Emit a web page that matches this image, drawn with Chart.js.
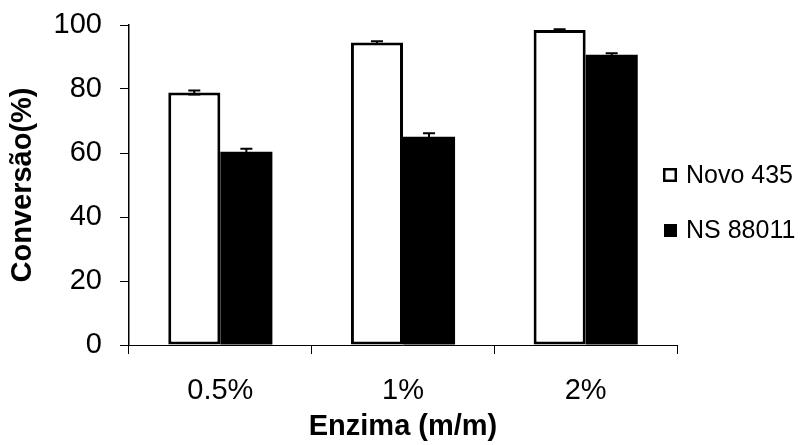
<!DOCTYPE html>
<html>
<head>
<meta charset="utf-8">
<script src="https://cdn.jsdelivr.net/npm/chart.js@4"></script>
<style>
  html, body { margin: 0; padding: 0; background: #fff; }
  #wrap { width: 801px; height: 445px; }
</style>
</head>
<body>
<div id="wrap"><canvas id="myChart"></canvas></div>
<script>
/*** data ***/
const categories = ["0.5%", "1%", "2%"];
const novo435 = [78.9, 94.5, 98.4];
const novo435Err = [0.6, 0.4, 0.3];
const ns88011 = [60.4, 65.1, 90.7];
const ns88011Err = [0.9, 1.1, 0.5];
const yMin = 0, yMax = 100, yStep = 20;

const FONT = "'Liberation Sans', Arial, sans-serif";

// error bars, drawn through the chart's own scales
const errorBars = {
  id: "errorBars",
  afterDatasetsDraw(chart) {
    const ctx = chart.ctx;
    const y = chart.scales.y;
    ctx.save();
    ctx.strokeStyle = "#000";
    ctx.lineWidth = 2;
    chart.data.datasets.forEach((ds, i) => {
      const meta = chart.getDatasetMeta(i);
      meta.data.forEach((bar, j) => {
        const v = ds.data[j], e = ds.errors[j];
        const x = bar.x;
        const hi = y.getPixelForValue(v + e);
        const lo = y.getPixelForValue(v - e);
        ctx.beginPath();
        ctx.moveTo(x, hi); ctx.lineTo(x, lo);
        ctx.moveTo(x - 6, hi); ctx.lineTo(x + 6, hi);
        ctx.moveTo(x - 6, lo); ctx.lineTo(x + 6, lo);
        ctx.stroke();
      });
    });
    ctx.restore();
  }
};

// legend on the right, overlapping the plot edge as in the original
const sideLegend = {
  id: "sideLegend",
  afterDraw(chart) {
    const ctx = chart.ctx;
    const x0 = chart.chartArea.right - 14;
    const rows = [175, 230];
    ctx.save();
    ctx.font = "25px " + FONT;
    ctx.textBaseline = "middle";
    chart.data.datasets.forEach((ds, i) => {
      const cy = rows[i];
      if (ds.borderWidth) {
        ctx.fillStyle = ds.backgroundColor;
        ctx.fillRect(x0, cy - 7, 14, 14);
        ctx.lineWidth = 2.5;
        ctx.strokeStyle = ds.borderColor;
        ctx.strokeRect(x0 + 1.25, cy - 5.75, 11.5, 11.5);
      } else {
        ctx.fillStyle = ds.backgroundColor;
        ctx.fillRect(x0 + 1, cy - 6, 13, 13);
      }
      ctx.fillStyle = "#000";
      ctx.fillText(ds.label, x0 + 23, cy + 1);
    });
    ctx.restore();
  }
};

var ctx = document.getElementById("myChart").getContext("2d");
var chart = new Chart(ctx, {
  type: "bar",
  data: {
    labels: categories,
    datasets: [
      {
        label: "Novo 435",
        data: novo435,
        errors: novo435Err,
        backgroundColor: "#fff",
        borderColor: "#000",
        borderWidth: 3,
        borderSkipped: false,
      },
      {
        label: "NS 88011",
        data: ns88011,
        errors: ns88011Err,
        backgroundColor: "#000",
        borderWidth: 0,
      },
    ],
  },
  options: {
    responsive: true,
    maintainAspectRatio: false,
    animation: false,
    layout: { padding: { left: 0, right: 124, top: 25, bottom: 0 } },
    datasets: { bar: { categoryPercentage: 0.57, barPercentage: 1.0 } },
    plugins: { legend: { display: false }, tooltip: { enabled: false } },
    scales: {
      x: {
        afterFit: (s) => { s.height = 100; },
        border: { display: true, color: "#000", width: 1 },
        grid: { display: true, drawOnChartArea: false, drawTicks: true, tickLength: 9, color: "#000", offset: true },
        ticks: { color: "#000", padding: 20, font: { family: FONT, size: 29 } },
        title: {
          display: true,
          text: "Enzima (m/m)",
          color: "#000",
          padding: { top: 0, bottom: 1 },
          font: { family: FONT, size: 29, weight: "bold" },
        },
      },
      y: {
        min: yMin,
        max: yMax,
        afterFit: (s) => { s.width = 129; s.paddingTop = 0; },
        border: { display: true, color: "#000", width: 1.5 },
        grid: { display: true, drawOnChartArea: false, drawTicks: true, tickLength: 9, color: "#000" },
        ticks: { stepSize: yStep, color: "#000", padding: 18, font: { family: FONT, size: 29 } },
        title: {
          display: true,
          text: "Conversão(%)",
          color: "#000",
          padding: { top: 6, bottom: 0 },
          font: { family: FONT, size: 29, weight: "bold" },
        },
      },
    },
  },
  plugins: [errorBars, sideLegend],
});
</script>
</body>
</html>
